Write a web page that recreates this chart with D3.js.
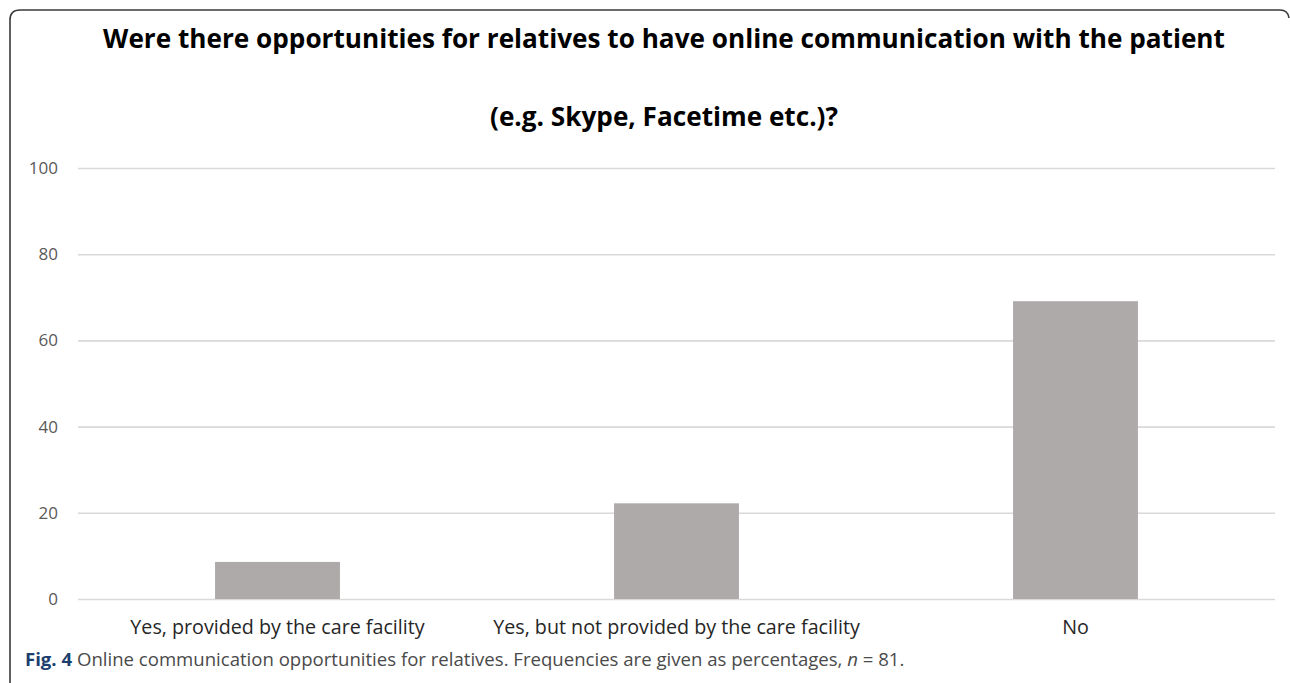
<!DOCTYPE html>
<html>
<head>
<meta charset="utf-8">
<script src="https://cdn.jsdelivr.net/npm/d3@7"></script>
<style>
  html, body { margin: 0; padding: 0; background: #fff; }
  svg { display: block; }
</style>
</head>
<body>
<svg id="chart" width="1290" height="683"></svg>
<script>
const categories = [
  "Yes, provided by the care facility",
  "Yes, but not provided by the care facility",
  "No"
];
const values = [8.6, 22.2, 69.1];
const yTicks = [0, 20, 40, 60, 80, 100];
const titleLines = [
  "Were there opportunities for relatives to have online communication with the patient",
  "(e.g. Skype, Facetime etc.)?"
];
const captionLabel = "Fig. 4";
const captionText = " Online communication opportunities for relatives. Frequencies are given as percentages, ";
const captionN = "n";
const captionTail = " = 81.";

const svg = d3.select("#chart");
const plot = { left: 78, right: 1275, top: 168, bottom: 599 };

// Border frame (rounded top corners)
svg.append("path")
  .attr("d", `M10,683 L10,20 Q10,10 20,10 L1280,10 Q1288,10 1289,18`)
  .attr("fill", "none")
  .attr("stroke", "#3a3a3a")
  .attr("stroke-width", 1.6);

function fitText(sel, targetW) {
  const fs = parseFloat(sel.attr("font-size"));
  const w = sel.node().getComputedTextLength();
  sel.attr("font-size", (fs * targetW / w).toFixed(2));
}

// Title
const t1 = svg.append("text")
  .attr("x", 664).attr("y", 48)
  .attr("text-anchor", "middle")
  .attr("font-family", "'Open Sans', sans-serif")
  .attr("font-weight", 700)
  .attr("font-size", 25)
  .attr("fill", "#000")
  .text(titleLines[0]);
fitText(t1, 1122);
svg.append("text")
  .attr("x", 664).attr("y", 126)
  .attr("text-anchor", "middle")
  .attr("font-family", "'Open Sans', sans-serif")
  .attr("font-weight", 700)
  .attr("font-size", t1.attr("font-size"))
  .attr("fill", "#000")
  .text(titleLines[1]);

// Scales
const x = d3.scaleBand()
  .domain(categories)
  .range([plot.left, plot.right])
  .paddingInner(0.687)
  .paddingOuter(0.3435);
const y = d3.scaleLinear().domain([0, 100]).range([plot.bottom, plot.top]);

// Gridlines
const grid = svg.append("g")
  .attr("transform", `translate(${plot.left},0)`)
  .call(d3.axisLeft(y).tickValues(yTicks).tickSize(-(plot.right - plot.left)).tickFormat(""));
grid.select(".domain").remove();
grid.selectAll("line").attr("stroke", "#d9d9d9").attr("stroke-width", 1.6);

// Y tick labels
const yAxis = svg.append("g")
  .attr("transform", `translate(58,0)`)
  .call(d3.axisLeft(y).tickValues(yTicks).tickSize(0).tickPadding(0));
yAxis.select(".domain").remove();
yAxis.selectAll("text")
  .attr("font-family", "'Open Sans', sans-serif")
  .attr("font-size", 17)
  .attr("fill", "#595959");

// Bars
svg.append("g").selectAll("rect")
  .data(values)
  .join("rect")
  .attr("x", (d, i) => x(categories[i]))
  .attr("width", x.bandwidth())
  .attr("y", d => y(d))
  .attr("height", d => y(0) - y(d))
  .attr("fill", "#aeaaaa");

// X labels
const xAxis = svg.append("g")
  .attr("transform", `translate(0,${plot.bottom})`)
  .call(d3.axisBottom(x).tickSize(0).tickPadding(0));
xAxis.select(".domain").remove();
xAxis.selectAll("text")
  .attr("dy", null)
  .attr("y", 35)
  .attr("font-family", "'Open Sans', sans-serif")
  .attr("font-size", 19.7)
  .attr("fill", "#262626");

// Caption
const cap = svg.append("text")
  .attr("x", 25).attr("y", 666)
  .attr("font-family", "'Open Sans', sans-serif")
  .attr("font-size", 16)
  .attr("fill", "#4a4a4a");
cap.append("tspan").attr("font-weight", 700).attr("fill", "#1c3f6e").text(captionLabel);
cap.append("tspan").text(captionText);
cap.append("tspan").attr("font-style", "italic").text(captionN);
cap.append("tspan").text(captionTail);
fitText(cap, 880);
</script>
</body>
</html>
